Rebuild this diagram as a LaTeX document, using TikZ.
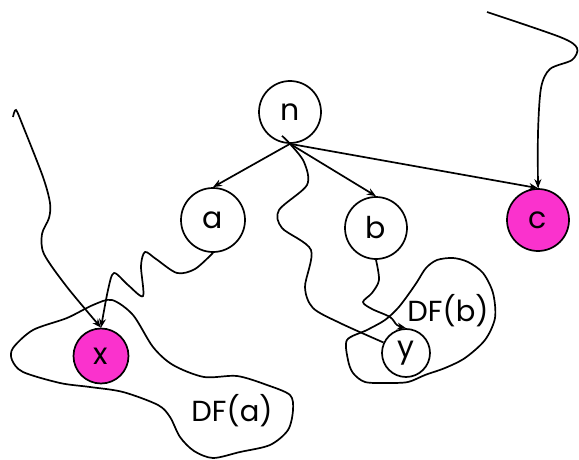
\documentclass[tikz,border=0pt]{standalone}
\usepackage{fontspec}
\setmainfont{Poppins}
\usetikzlibrary{arrows.meta}
\usetikzlibrary{calc}
\usetikzlibrary{positioning}

\definecolor{hotpink}{RGB}{250,50,205}

\begin{document}
\begin{tikzpicture}[x=1pt,y=-1pt,line width=1.7pt,
      vert/.style={circle,draw,inner sep=0pt,minimum size=62pt,font=\fontsize{30}{34}\selectfont},
      hit/.style={vert,fill=hotpink},
      tip/.style={-{Stealth[length=9pt,width=7pt]}},
      region/.style={font=\fontsize{29}{34}\selectfont},
    ]
    \useasboundingbox (0,0) rectangle (579,460);

    % the two DF regions
    \draw plot[smooth cycle] coordinates {
        (13,348) (33,330) (67,318) (93,305) (112,300) (133,315) (153,347)
        (173,365) (204,377) (237,376) (267,385) (290,395) (293,410)
        (288,430) (270,445) (240,452) (213,458) (194,451) (180,437)
        (170,417) (158,405) (123,392) (90,387) (60,383) (23,372) (12,360)};
    \draw plot[smooth cycle] coordinates {
        (347,340) (348,360) (353,373) (365,382) (387,383) (408,382)
        (425,375) (445,368) (465,358) (485,340) (495,318) (493,293)
        (483,273) (468,262) (453,258) (437,260) (426,268) (417,282)
        (408,295) (398,308) (385,320) (367,330)};
    \node[region] (dfa) at (232,411) {DF(a)};
    \node[region] (dfb) at (448,311) {DF(b)};

    \node[vert] (n) at (290,112) {n};
    \node[vert,minimum size=64pt] (a) at (213,220) {a};
    \node[vert] (b) at (376,228) {b};
    \node[hit] (c) at (538,220) {c};
    \node[hit,minimum size=55pt] (x) at (101,356) {x};
    \node[vert,minimum size=48pt] (y) at (406,353) {y};

    \draw[tip] (n.south) -- (a.north);
    \draw[tip] (n.south) -- (b.north);
    \draw[tip] (n.south) -- (c.north);

    % paths wandering down to the frontier
    \draw plot[smooth] coordinates {
        ($(n.south)+(-8,-8)$) (n.south) (304,162) (307,185) (279,210) (282,228)
        (311,250) (305,287) (313,308) (340,323) (y.155)};
    \draw[tip] plot[smooth] coordinates {
        (b.south) (379,280) (372,293) (363,302) (372,309) (390,317)
        (397,325) (y.north)};
    \draw[tip] plot[smooth] coordinates {
        (a.south) (195,269) (177,273) (156,259) (145,252) (141,266)
        (143,296) (128,285) (114,273) (108,290) (x.north)};

    \coordinate (from1) at (13,117);
    \coordinate (from2) at (487,12);
    \draw[tip] plot[smooth] coordinates {
        (from1) (16,110) (23,126) (43,177) (50,203) (49,218) (42,234)
        (44,254) (67,287) (x.north)};
    \draw[tip] plot[smooth] coordinates {
        (from2) (560,37) (577,48) (572,60) (550,69) (541,88) (538,133)
        (c.north)};
\end{tikzpicture}
\end{document}
